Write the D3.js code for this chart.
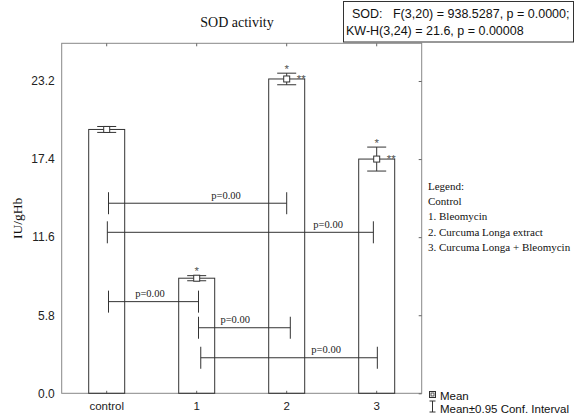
<!DOCTYPE html>
<html><head><meta charset="utf-8">
<script src="https://cdn.jsdelivr.net/npm/d3@7"></script>
<style>body{margin:0;background:#fff}svg{display:block}</style>
</head><body>
<script>
// ---- data ----
const categories = ["control", "1", "2", "3"];
const means = [19.6, 8.55, 23.35, 17.4];
const ciHalf = [0.22, 0.19, 0.43, 0.89];
const starsAbove = ["", "*", "*", "*"];
const starsRight = ["", "", "**", "**"];
const yTicks = [0.0, 5.8, 11.6, 17.4, 23.2];
const yMax = 26;
// brackets: from/to in category index units, level in IU/gHb, label position (fraction along bracket)
const bracketFrom = [0.02, 0.007, 0.02, 1.02, 1.045];
const bracketTo = [2.0, 2.963, 1.02, 2.04, 3.007];
const bracketLevel = [14.12, 11.96, 6.81, 4.87, 2.64];
const bracketLabel = ["p=0.00", "p=0.00", "p=0.00", "p=0.00", "p=0.00"];
const bracketLabelPos = [0.66, 0.83, 0.46, 0.40, 0.71];
const legendTitle = "Legend:";
const legendItems = ["Control", "1. Bleomycin", "2. Curcuma Longa extract", "3. Curcuma Longa + Bleomycin"];
const statsLines = ["SOD:   F(3,20) = 938.5287, p = 0.0000;", "KW-H(3,24) = 21.6, p = 0.00008"];
const title = "SOD activity";
const yLabel = "IU/gHb";
const meanLegend = ["Mean", "Mean\u00B10.95 Conf. Interval"];

// ---- layout ----
const W = 576, H = 418;
const L = 61.7, R = 421.7, T = 43.3, B = 393.3;
const serif = "'Liberation Serif','Times New Roman',serif";
const sans = "'Liberation Sans',Arial,sans-serif";
const dark = "#333";

const svg = d3.select("body").append("svg").attr("width", W).attr("height", H);

const x = d3.scaleBand().domain(categories).range([L, R]).paddingInner(0).paddingOuter(0);
const xi = d3.scaleLinear().domain([0, 3]).range([L + x.bandwidth() / 2, L + x.bandwidth() * 3.5]);
const y = d3.scaleLinear().domain([0, yMax]).range([B, T]);
const cx = c => x(c) + x.bandwidth() / 2;
const bw = x.bandwidth() * 0.4;

// frame
svg.append("rect").attr("x", L).attr("y", T).attr("width", R - L).attr("height", B - T)
  .attr("fill", "none").attr("stroke", "#888").attr("stroke-width", 1);

// left axis labels (no ticks)
const leftAxis = d3.axisLeft(y).tickValues(yTicks).tickFormat(d3.format(".1f")).tickSize(0).tickPadding(7);
const gl = svg.append("g").attr("transform", `translate(${L},0)`).call(leftAxis);
gl.select(".domain").remove();
gl.selectAll("text").attr("font-family", sans).attr("font-size", 12).attr("fill", "#222");

// right ticks inward
const rightAxis = d3.axisRight(y).tickValues(yTicks).tickFormat("").tickSizeInner(-3).tickSizeOuter(0);
const gr = svg.append("g").attr("transform", `translate(${R},0)`).call(rightAxis);
gr.select(".domain").remove();
gr.selectAll("line").attr("stroke", "#666");

// bottom axis
const bottomAxis = d3.axisBottom(x).tickSizeInner(-2.5).tickSizeOuter(0).tickPadding(9);
const gb = svg.append("g").attr("transform", `translate(0,${B})`).call(bottomAxis);
gb.select(".domain").remove();
gb.selectAll("line").attr("stroke", "#666");
gb.selectAll("text").attr("font-family", sans).attr("font-size", 11.5).attr("fill", "#222");

// top ticks
const topAxis = d3.axisTop(x).tickSizeInner(-3).tickSizeOuter(0).tickFormat("");
const gt = svg.append("g").attr("transform", `translate(0,${T})`).call(topAxis);
gt.select(".domain").remove();
gt.selectAll("line").attr("stroke", "#666");

// bars
svg.append("g").selectAll("rect").data(categories).join("rect")
  .attr("x", c => cx(c) - bw / 2)
  .attr("y", (c, i) => y(means[i]))
  .attr("width", bw)
  .attr("height", (c, i) => B - y(means[i]))
  .attr("fill", "none").attr("stroke", dark).attr("stroke-width", 1);

// brackets
const br = svg.append("g");
bracketLevel.forEach((lv, i) => {
  const x1 = xi(bracketFrom[i]), x2 = xi(bracketTo[i]), yy = y(lv);
  br.append("line").attr("x1", x1).attr("x2", x2).attr("y1", yy).attr("y2", yy).attr("stroke", dark);
  br.append("line").attr("x1", x1).attr("x2", x1).attr("y1", yy - 11).attr("y2", yy + 11).attr("stroke", dark);
  br.append("line").attr("x1", x2).attr("x2", x2).attr("y1", yy - 11).attr("y2", yy + 11).attr("stroke", dark);
  br.append("text").attr("x", x1 + (x2 - x1) * bracketLabelPos[i]).attr("y", yy - 4.5)
    .attr("text-anchor", "middle").attr("font-family", serif).attr("font-size", 10.5)
    .attr("fill", "#222").text(bracketLabel[i]);
});

// error bars + mean markers
const eb = svg.append("g");
categories.forEach((c, i) => {
  const xc = cx(c), hi = y(means[i] + ciHalf[i]), lo = y(means[i] - ciHalf[i]), m = y(means[i]);
  eb.append("line").attr("x1", xc).attr("x2", xc).attr("y1", hi).attr("y2", lo).attr("stroke", dark);
  eb.append("line").attr("x1", xc - 9.5).attr("x2", xc + 9.5).attr("y1", hi).attr("y2", hi).attr("stroke", dark);
  eb.append("line").attr("x1", xc - 9.5).attr("x2", xc + 9.5).attr("y1", lo).attr("y2", lo).attr("stroke", dark);
  eb.append("rect").attr("x", xc - 3).attr("y", m - 3).attr("width", 6).attr("height", 6)
    .attr("fill", "#fff").attr("stroke", dark);
  if (starsAbove[i]) eb.append("text").attr("x", xc).attr("y", hi - 0.5)
    .attr("text-anchor", "middle").attr("font-family", sans).attr("font-size", 11.5).attr("fill", "#555").text(starsAbove[i]);
  if (starsRight[i]) eb.append("text").attr("x", xc + 10).attr("y", m + 4)
    .attr("font-family", sans).attr("font-size", 11.5).attr("fill", "#555").text(starsRight[i]);
});

// title
svg.append("text").attr("x", 237).attr("y", 27).attr("text-anchor", "middle")
  .attr("font-family", serif).attr("font-size", 14).attr("fill", "#111").text(title);

// y label
svg.append("text").attr("transform", `translate(22,${(T + B) / 2}) rotate(-90)`).attr("text-anchor", "middle")
  .attr("font-family", serif).attr("font-size", 13.5).attr("fill", "#111").text(yLabel);

// stats box
svg.append("rect").attr("x", 343.5).attr("y", 1.5).attr("width", 230).attr("height", 40.5)
  .attr("fill", "#fff").attr("stroke", "#333");
svg.append("text").attr("x", 352).attr("y", 18).attr("font-family", sans).attr("font-size", 12.5)
  .attr("fill", "#111").style("white-space", "pre").text(statsLines[0]);
svg.append("text").attr("x", 346).attr("y", 35).attr("font-family", sans).attr("font-size", 12.5)
  .attr("fill", "#111").style("white-space", "pre").text(statsLines[1]);

// right legend
const lg = svg.append("g").attr("font-family", serif).attr("font-size", 11).attr("fill", "#111");
[legendTitle].concat(legendItems).forEach((s, i) => {
  lg.append("text").attr("x", 428).attr("y", 190 + i * 15.2).text(s);
});

// bottom legend
const bl = svg.append("g");
bl.append("rect").attr("x", 429.5).attr("y", 391.5).attr("width", 6).attr("height", 6).attr("fill", "#fff").attr("stroke", dark);
bl.append("rect").attr("x", 431).attr("y", 393).attr("width", 3).attr("height", 3).attr("fill", "none").attr("stroke", dark).attr("stroke-width", 0.8);
bl.append("line").attr("x1", 432.5).attr("x2", 432.5).attr("y1", 401).attr("y2", 412).attr("stroke", dark);
bl.append("line").attr("x1", 429.5).attr("x2", 435.5).attr("y1", 401).attr("y2", 401).attr("stroke", dark);
bl.append("line").attr("x1", 429.5).attr("x2", 435.5).attr("y1", 412).attr("y2", 412).attr("stroke", dark);
meanLegend.forEach((s, i) => {
  bl.append("text").attr("x", 440).attr("y", 400 + i * 13).attr("font-family", sans).attr("font-size", 11.5)
    .attr("fill", "#111").text(s);
});
</script>
</body></html>
